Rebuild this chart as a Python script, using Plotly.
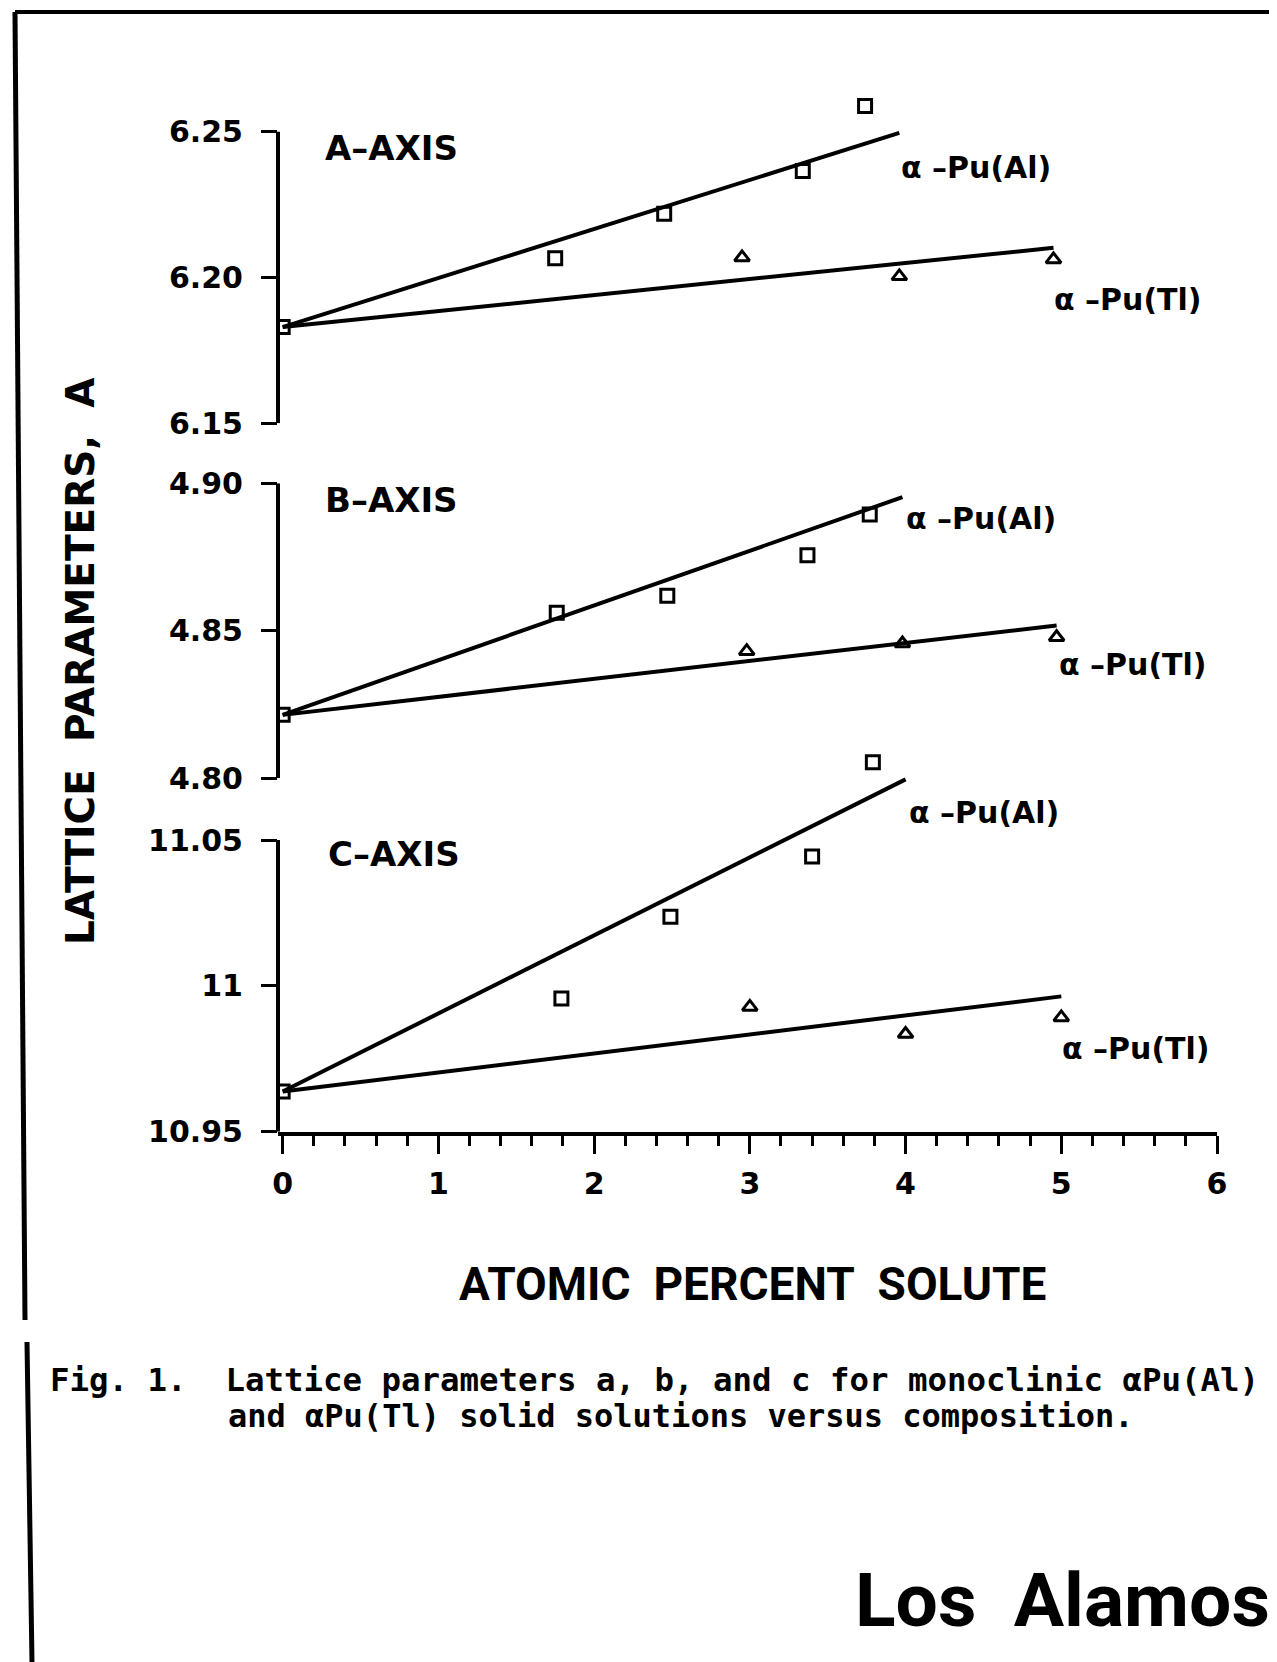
import plotly.graph_objects as go

# ---------------- data ----------------
# A-axis
a_al_x = [0.0, 1.75, 2.45, 3.34, 3.74]
a_al_y = [6.183, 6.2066, 6.2219, 6.2365, 6.2588]
a_tl_x = [2.95, 3.96, 4.95]
a_tl_y = [6.2069, 6.2004, 6.2062]
a_al_fit_x = [0.0, 3.96]
a_al_fit_y = [6.183, 6.2496]
a_tl_fit_x = [0.0, 4.95]
a_tl_fit_y = [6.183, 6.2102]

# B-axis
b_al_x = [0.0, 1.76, 2.47, 3.37, 3.77]
b_al_y = [4.8215, 4.8561, 4.8619, 4.8756, 4.8894]
b_tl_x = [2.98, 3.98, 4.97]
b_tl_y = [4.8431, 4.8457, 4.8478]
b_al_fit_x = [0.0, 3.98]
b_al_fit_y = [4.8215, 4.8953]
b_tl_fit_x = [0.0, 4.97]
b_tl_fit_y = [4.8215, 4.8518]

# C-axis
c_al_x = [0.0, 1.79, 2.49, 3.40, 3.79]
c_al_y = [10.9638, 10.9957, 11.0237, 11.0444, 11.0767]
c_tl_x = [3.0, 4.0, 5.0]
c_tl_y = [10.9928, 10.9835, 10.9892]
c_al_fit_x = [0.0, 4.0]
c_al_fit_y = [10.9638, 11.0708]
c_tl_fit_x = [0.0, 5.0]
c_tl_fit_y = [10.9638, 10.9964]

x_ticks = [0, 1, 2, 3, 4, 5, 6]
a_ticks = [6.15, 6.20, 6.25]
a_ticktext = ["6.15", "6.20", "6.25"]
b_ticks = [4.80, 4.85, 4.90]
b_ticktext = ["4.80", "4.85", "4.90"]
c_ticks = [10.95, 11.0, 11.05]
c_ticktext = ["10.95", "11", "11.05"]

panel_names = ["A\u2013AXIS", "B\u2013AXIS", "C\u2013AXIS"]
al_label = "\u03b1 \u2013Pu(Al)"
tl_label = "\u03b1 \u2013Pu(Tl)"

# ---------------- figure ----------------
# the page body has an 8 px margin, so the figure is drawn 8 px smaller and
# screen-pixel positions are converted with that offset
OFF = 8
W, H = 1277 - OFF, 1662 - OFF
def px_x(p):
    return (p - OFF) / W
def px_y(p):
    return 1 - (p - OFF) / H

BLACK = "black"
LW = 4
TICKFONT = dict(family="DejaVu Sans", size=30, color=BLACK, weight="bold")
LABFONT = dict(family="DejaVu Sans", size=30, color=BLACK, weight="bold")
PANELFONT = dict(family="DejaVu Sans", size=34, color=BLACK, weight="bold")

fig = go.Figure()

panels = [
    ("y", a_al_x, a_al_y, a_tl_x, a_tl_y, a_al_fit_x, a_al_fit_y, a_tl_fit_x, a_tl_fit_y),
    ("y2", b_al_x, b_al_y, b_tl_x, b_tl_y, b_al_fit_x, b_al_fit_y, b_tl_fit_x, b_tl_fit_y),
    ("y3", c_al_x, c_al_y, c_tl_x, c_tl_y, c_al_fit_x, c_al_fit_y, c_tl_fit_x, c_tl_fit_y),
]
for ya, alx, aly, tlx, tly, afx, afy, tfx, tfy in panels:
    fig.add_trace(go.Scatter(x=afx, y=afy, mode="lines", xaxis="x", yaxis=ya,
                             line=dict(color=BLACK, width=LW), showlegend=False))
    fig.add_trace(go.Scatter(x=tfx, y=tfy, mode="lines", xaxis="x", yaxis=ya,
                             line=dict(color=BLACK, width=LW), showlegend=False))
    fig.add_trace(go.Scatter(x=alx, y=aly, mode="markers", xaxis="x", yaxis=ya,
                             marker=dict(symbol="square-open", size=13, color=BLACK,
                                         line=dict(width=3, color=BLACK)),
                             showlegend=False))
    fig.add_trace(go.Scatter(x=tlx, y=tly, mode="markers", xaxis="x", yaxis=ya,
                             marker=dict(symbol="triangle-up-open", size=13, color=BLACK,
                                         line=dict(width=3, color=BLACK)),
                             showlegend=False))

yaxis_common = dict(showline=False, ticks="outside", automargin=False,
                    ticklen=16, tickwidth=3, tickcolor=BLACK, showgrid=False,
                    zeroline=False, tickfont=TICKFONT, anchor="x", ticklabelstandoff=12)

X0_PX = 278
fig.update_layout(
    width=W, height=H,
    margin=dict(l=0, r=0, t=0, b=0, pad=0, autoexpand=False),
    paper_bgcolor="white", plot_bgcolor="rgba(0,0,0,0)",
    xaxis=dict(domain=[px_x(X0_PX), px_x(1217)], range=[-0.03, 6.0], anchor="y3",
               automargin=False,
               showline=True, linecolor=BLACK, linewidth=4, ticks="outside",
               ticklen=18, tickwidth=3, tickcolor=BLACK, tickvals=x_ticks,
               showgrid=False, zeroline=False, tickfont=TICKFONT, ticklabelstandoff=4,
               minor=dict(dtick=0.2, tick0=0, ticks="outside", ticklen=10, tickwidth=3,
                          tickcolor=BLACK, showgrid=False)),
    # ranges extend above the top tick so off-scale points stay visible;
    # the drawn axis line covers only the ticked span (shapes below)
    yaxis=dict(domain=[px_y(423.3), px_y(88)], range=[6.15, 6.265],
               tickvals=a_ticks, ticktext=a_ticktext, **yaxis_common),
    yaxis2=dict(domain=[px_y(778.3), px_y(483.3)], range=[4.80, 4.90],
                tickvals=b_ticks, ticktext=b_ticktext, **yaxis_common),
    yaxis3=dict(domain=[px_y(1131.7), px_y(738)], range=[10.95, 11.085],
                tickvals=c_ticks, ticktext=c_ticktext, **yaxis_common),
)

ann = []
label_pos = [
    ("y", 0.257, 6.2444, 3.96, 6.2379, 4.94, 6.1923),
    ("y2", 0.257, 4.8943, 3.99, 4.8879, 4.97, 4.8386),
    ("y3", 0.276, 11.0452, 4.01, 11.0593, 4.99, 10.9787),
]
for (ya, px_, py_, ax_, ay_, tx_, ty_), name in zip(label_pos, panel_names):
    ann.append(dict(x=px_, y=py_, xref="x", yref=ya, text=name, showarrow=False,
                    xanchor="left", yanchor="middle", font=PANELFONT))
    ann.append(dict(x=ax_, y=ay_, xref="x", yref=ya, text=al_label, showarrow=False,
                    xanchor="left", yanchor="middle", font=LABFONT))
    ann.append(dict(x=tx_, y=ty_, xref="x", yref=ya, text=tl_label, showarrow=False,
                    xanchor="left", yanchor="middle", font=LABFONT))

ann.append(dict(x=px_x(80), y=px_y(662), xref="paper", yref="paper",
                text="LATTICE&nbsp; PARAMETERS,&nbsp; A", textangle=-90,
                showarrow=False, xanchor="center", yanchor="middle",
                font=dict(family="DejaVu Sans", size=39, color=BLACK, weight="bold")))
ann.append(dict(x=px_x(752), y=px_y(1284), xref="paper", yref="paper",
                text="ATOMIC&nbsp;&nbsp;PERCENT&nbsp;&nbsp;SOLUTE",
                showarrow=False, xanchor="center", yanchor="middle",
                font=dict(family="Roboto, DejaVu Sans", size=46, color=BLACK, weight="bold")))
ann.append(dict(x=px_x(48), y=px_y(1380), xref="paper", yref="paper",
                text="Fig. 1.&nbsp; Lattice parameters a, b, and c for monoclinic \u03b1Pu(Al)",
                showarrow=False, xanchor="left", yanchor="middle",
                font=dict(family="DejaVu Sans Mono", size=32.4, color=BLACK, weight="bold")))
ann.append(dict(x=px_x(226), y=px_y(1416), xref="paper", yref="paper",
                text="and \u03b1Pu(Tl) solid solutions versus composition.",
                showarrow=False, xanchor="left", yanchor="middle",
                font=dict(family="DejaVu Sans Mono", size=32, color=BLACK, weight="bold")))
ann.append(dict(x=px_x(853), y=px_y(1600), xref="paper", yref="paper",
                text="Los&nbsp; Alamos",
                showarrow=False, xanchor="left", yanchor="middle",
                font=dict(family="Roboto, DejaVu Sans", size=75, color=BLACK, weight="bold")))
fig.update_layout(annotations=ann)

shapes = [
    # page border
    dict(type="line", xref="paper", yref="paper", x0=px_x(15), y0=px_y(12), x1=1.0, y1=px_y(12),
         line=dict(color=BLACK, width=4)),
    dict(type="line", xref="paper", yref="paper", x0=px_x(15), y0=px_y(12), x1=px_x(25), y1=px_y(1320),
         line=dict(color=BLACK, width=5)),
    dict(type="line", xref="paper", yref="paper", x0=px_x(27), y0=px_y(1342), x1=px_x(32), y1=0.0,
         line=dict(color=BLACK, width=5)),
]
# left axis lines spanning only the ticked range of each panel
for ya, ticks in (("y", a_ticks), ("y2", b_ticks), ("y3", c_ticks)):
    shapes.append(dict(type="line", xref="paper", yref=ya, x0=px_x(X0_PX), x1=px_x(X0_PX),
                       y0=ticks[0], y1=ticks[-1], line=dict(color=BLACK, width=4)))
fig.update_layout(shapes=shapes)

fig.write_html("out.html")
